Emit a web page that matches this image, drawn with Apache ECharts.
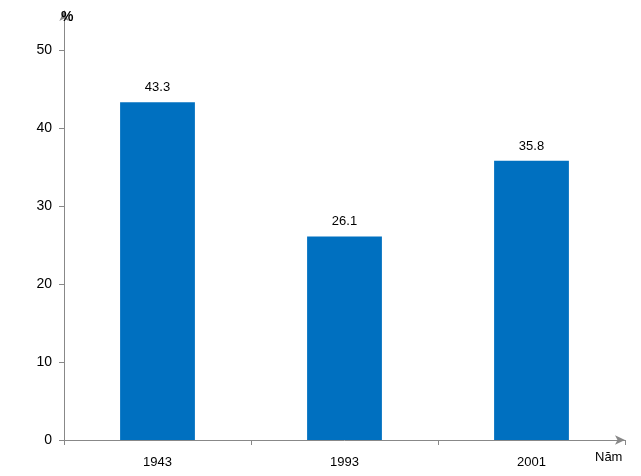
<!DOCTYPE html>
<html>
<head>
<meta charset="utf-8">
<script src="https://cdn.jsdelivr.net/npm/echarts@6/dist/echarts.min.js"></script>
<style>html,body{margin:0;padding:0;background:#fff}#main{width:641px;height:476px}</style>
</head>
<body>
<div id="main"></div>
<script>
// du lieu bieu do
var years = ['1943', '1993', '2001'];
var values = [43.3, 26.1, 35.8];
var yTicks = [0, 10, 20, 30, 40, 50];

var chart = echarts.init(document.getElementById('main'));
var option = {
	animation: false,
	grid: { left: 64, right: 16, top: 11, bottom: 36 },
	title: [
		{ text: '%', left: 56, top: 5, textStyle: { fontFamily: 'Liberation Sans', fontSize: 14, fontWeight: 'bold', color: '#000' } },
		{ text: 'Năm', left: 590, top: 446, textStyle: { fontFamily: 'Liberation Sans', fontSize: 13, fontWeight: 'normal', color: '#000' } }
	],
	xAxis: {
		type: 'category',
		data: years,
		axisLine: { lineStyle: { color: '#888', width: 1 }, symbol: ['none', 'arrow'], symbolSize: [7, 10] },
		axisTick: { show: true, lineStyle: { color: '#888' } },
		axisLabel: { color: '#000', fontFamily: 'Liberation Sans', fontSize: 13, margin: 16 }
	},
	yAxis: {
		type: 'value',
		min: 0,
		max: 55,
		splitLine: { show: false },
		axisLine: { show: true, lineStyle: { color: '#888', width: 1 }, symbol: ['none', 'arrow'], symbolSize: [7, 10] },
		axisTick: { show: true, customValues: yTicks, lineStyle: { color: '#888' } },
		axisLabel: { customValues: yTicks, color: '#000', fontFamily: 'Liberation Sans', fontSize: 14, margin: 12 }
	},
	series: [{
		type: 'bar',
		data: values,
		barWidth: '40%',
		itemStyle: { color: '#0070C0' },
		label: { show: true, position: 'top', distance: 8, color: '#000', fontFamily: 'Liberation Sans', fontSize: 13,
			formatter: function (p) { return p.value.toFixed(1); } }
	}]
};
chart.setOption(option);
</script>
</body>
</html>
